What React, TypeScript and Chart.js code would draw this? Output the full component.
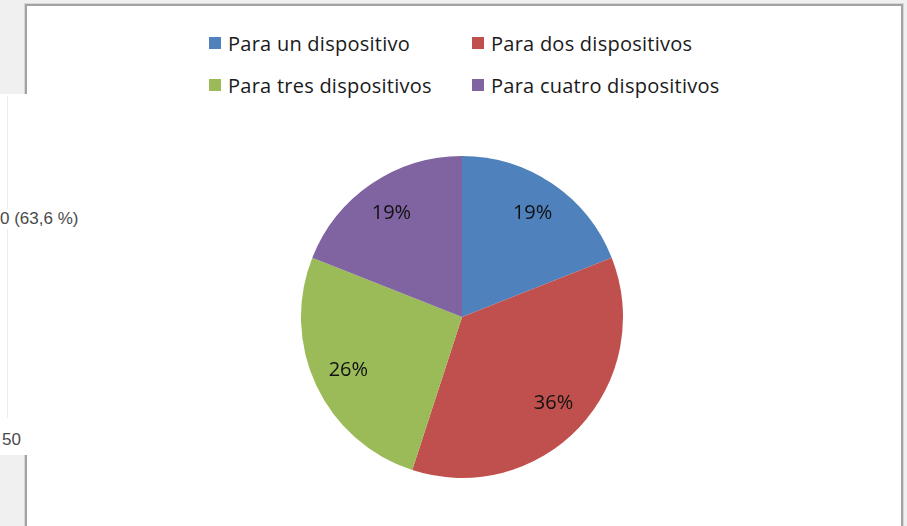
import React, { useEffect, useRef } from "react";
import { Chart, registerables } from "chart.js";

Chart.register(...registerables);

const categories = [
  "Para un dispositivo",
  "Para dos dispositivos",
  "Para tres dispositivos",
  "Para cuatro dispositivos",
];
const percentValues = [19, 36, 26, 19];
const sliceColors = ["#4F81BD", "#C0504D", "#9BBB59", "#8064A2"];
const overlayTexts = ["0 (63,6 %)", "50"];

const labelFont = "'Open Sans', 'Noto Sans', sans-serif";

const sliceLabelPlugin = {
  id: "sliceLabels",
  afterDatasetsDraw(chart: any) {
    const ctx = chart.ctx;
    const meta = chart.getDatasetMeta(0);
    const data = chart.data.datasets[0].data as number[];
    ctx.save();
    ctx.font = `20px ${labelFont}`;
    ctx.fillStyle = "#111111";
    ctx.textAlign = "center";
    ctx.textBaseline = "middle";
    meta.data.forEach((arc: any, i: number) => {
      const p = arc.getProps(["x", "y", "startAngle", "endAngle", "outerRadius"], true);
      const mid = (p.startAngle + p.endAngle) / 2;
      const r = p.outerRadius * 0.78;
      ctx.fillText(`${data[i]}%`, p.x + Math.cos(mid) * r, p.y + Math.sin(mid) * r);
    });
    ctx.restore();
  },
};

export default function App() {
  const canvasRef = useRef<HTMLCanvasElement | null>(null);

  useEffect(() => {
    if (!canvasRef.current) return;
    const chart = new Chart(canvasRef.current, {
      type: "pie",
      data: {
        labels: categories,
        datasets: [
          {
            data: percentValues,
            backgroundColor: sliceColors,
            borderWidth: 0,
          },
        ],
      },
      options: {
        animation: false,
        responsive: false,
        radius: 161,
        layout: { padding: 0 },
        plugins: {
          legend: { display: false },
          tooltip: { enabled: false },
        },
      } as any,
      plugins: [sliceLabelPlugin],
    });
    return () => chart.destroy();
  }, []);

  const legendPos = [
    { left: 209, top: 43 },
    { left: 472, top: 43 },
    { left: 209, top: 85 },
    { left: 472, top: 85 },
  ];

  return (
    <div
      style={{
        position: "fixed",
        left: 0,
        top: 0,
        width: 907,
        height: 526,
        background: "#f0f0f0",
        overflow: "hidden",
      }}
    >
      <div
        style={{
          position: "absolute",
          left: 25,
          top: 4,
          width: 874,
          height: 600,
          border: "2px solid #a2a2a2",
          boxShadow: "0 0 0 1px #d6d6d6",
          background: "#ffffff",
        }}
      />
      <canvas
        ref={canvasRef}
        width={340}
        height={340}
        style={{ position: "absolute", left: 292, top: 147, width: 340, height: 340 }}
      />
      {categories.map((c, i) => (
        <div
          key={c}
          style={{
            position: "absolute",
            left: legendPos[i].left,
            top: legendPos[i].top - 14,
            height: 28,
            display: "flex",
            alignItems: "center",
            fontFamily: labelFont,
            fontSize: 20,
            letterSpacing: 0.25,
            color: "#1a1a1a",
            whiteSpace: "nowrap",
          }}
        >
          <span
            style={{
              display: "inline-block",
              width: 12,
              height: 12,
              background: sliceColors[i],
              marginRight: 7,
            }}
          />
          {c}
        </div>
      ))}
      <div
        style={{
          position: "absolute",
          left: 0,
          top: 94,
          width: 80,
          height: 361,
          background: "#ffffff",
        }}
      />
      <div
        style={{
          position: "absolute",
          left: 7,
          top: 96,
          width: 1,
          height: 322,
          background: "#ececec",
        }}
      />
      <div
        style={{
          position: "absolute",
          left: 0,
          top: 209,
          fontFamily: "'Liberation Sans', Arial, sans-serif",
          fontSize: 17,
          color: "#4a4a4a",
          background: "#ffffff",
          whiteSpace: "nowrap",
        }}
      >
        {overlayTexts[0]}
      </div>
      <div
        style={{
          position: "absolute",
          left: 2,
          top: 430,
          fontFamily: "'Liberation Sans', Arial, sans-serif",
          fontSize: 17,
          color: "#4a4a4a",
          whiteSpace: "nowrap",
        }}
      >
        {overlayTexts[1]}
      </div>
    </div>
  );
}
